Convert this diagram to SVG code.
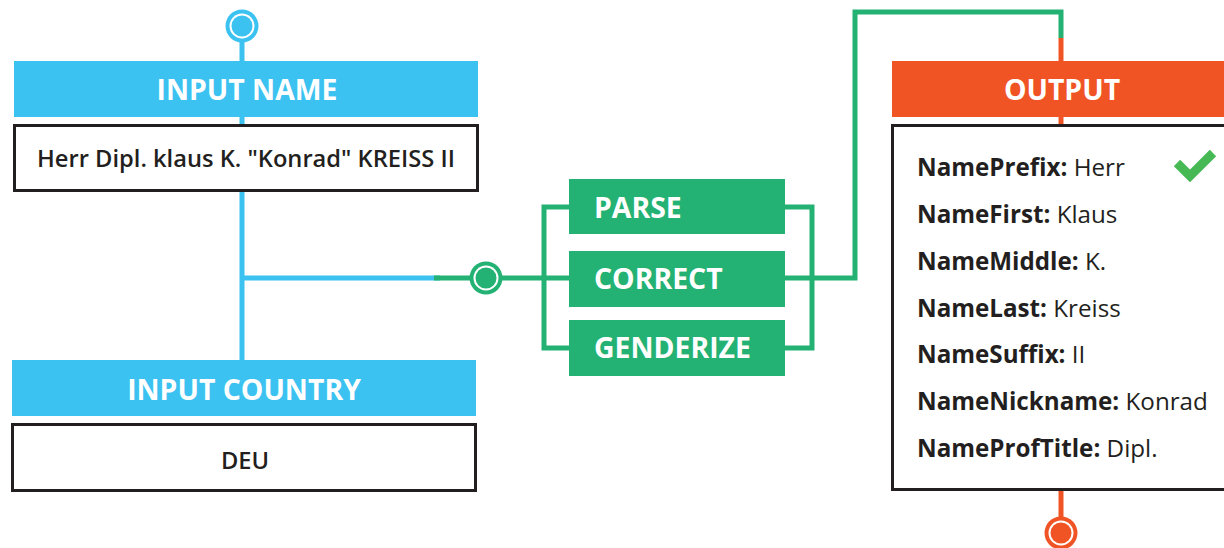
<svg xmlns="http://www.w3.org/2000/svg" width="1224" height="548" viewBox="0 0 1224 548">
<style>
.hdr{font-family:"Open Sans","Liberation Sans",sans-serif;font-weight:700;font-size:28.4px;fill:#fff}
.val{font-family:"Open Sans","Liberation Sans",sans-serif;font-weight:600;font-size:23.7px;fill:#231f20}
.out{font-family:"Open Sans","Liberation Sans",sans-serif;font-size:24.2px;fill:#231f20}
.out tspan.k{font-weight:700}
.box{fill:#fff;stroke:#231f20;stroke-width:3}
.blue{fill:#3bc2f1}
.green{fill:#23b273}
.orange{fill:#f15424}
.ln{fill:none;stroke-width:5}
</style>
<g id="connectors">
  <line class="ln" x1="242" y1="40" x2="242" y2="360" stroke="#3bc2f1" stroke-width="6"/>
  <line class="ln" x1="242" y1="278" x2="440" y2="278" stroke="#3bc2f1" stroke-width="6"/>
  <line class="ln" x1="434" y1="278" x2="569" y2="278" stroke="#23b273"/>
  <polyline class="ln" points="569,207 544,207 544,348 569,348" stroke="#23b273"/>
  <polyline class="ln" points="785,207 812,207 812,348 785,348" stroke="#23b273"/>
  <polyline class="ln" points="785,278 855,278 855,12 1061,12 1061,38" stroke="#23b273"/>
  <line class="ln" x1="1061" y1="38" x2="1061" y2="61" stroke="#f15424"/>
  <line class="ln" x1="1061" y1="117" x2="1061" y2="125" stroke="#f15424"/>
  <line class="ln" x1="1061" y1="490" x2="1061" y2="520" stroke="#f15424"/>
  <g id="port-top">
    <circle cx="242" cy="26" r="16.5" fill="#3bc2f1"/>
    <circle cx="242" cy="26" r="12.5" fill="#fff"/>
    <circle cx="242" cy="26" r="10.5" fill="#3bc2f1"/>
  </g>
  <g id="port-mid">
    <circle cx="486" cy="278" r="16.5" fill="#23b273"/>
    <circle cx="486" cy="278" r="12.5" fill="#fff"/>
    <circle cx="486" cy="278" r="10.5" fill="#23b273"/>
  </g>
  <g id="port-bottom">
    <circle cx="1061" cy="533" r="16.5" fill="#f15424"/>
    <circle cx="1061" cy="533" r="12.5" fill="#fff"/>
    <circle cx="1061" cy="533" r="10.5" fill="#f15424"/>
  </g>
</g>
<g id="input-name">
  <rect class="blue" x="14" y="61" width="464" height="56"/>
  <text class="hdr" x="247" y="100" text-anchor="middle">INPUT NAME</text>
  <rect class="box" x="14.5" y="125.5" width="463" height="65"/>
  <text class="val" x="246" y="167" text-anchor="middle">Herr Dipl. klaus K. "Konrad" KREISS II</text>
</g>
<g id="input-country">
  <rect class="blue" x="12" y="360" width="464" height="56"/>
  <text class="hdr" x="244" y="400" text-anchor="middle">INPUT COUNTRY</text>
  <rect class="box" x="12.5" y="424.5" width="463" height="66"/>
  <text class="val" x="245" y="469" text-anchor="middle">DEU</text>
</g>
<g id="parse">
  <rect class="green" x="569" y="179" width="216" height="55"/>
  <text class="hdr" x="594" y="218">PARSE</text>
</g>
<g id="correct">
  <rect class="green" x="569" y="251" width="216" height="56"/>
  <text class="hdr" x="594" y="289">CORRECT</text>
</g>
<g id="genderize">
  <rect class="green" x="569" y="320" width="216" height="56"/>
  <text class="hdr" x="594" y="358">GENDERIZE</text>
</g>
<g id="output">
  <rect class="orange" x="892" y="61" width="340" height="56"/>
  <text class="hdr" x="1062" y="100" text-anchor="middle">OUTPUT</text>
  <rect class="box" x="892.5" y="125.5" width="340" height="364"/>
  <text class="out" x="917" y="176"><tspan class="k">NamePrefix:</tspan> Herr</text>
  <text class="out" x="917" y="223"><tspan class="k">NameFirst:</tspan> Klaus</text>
  <text class="out" x="917" y="270"><tspan class="k">NameMiddle:</tspan> K.</text>
  <text class="out" x="917" y="317"><tspan class="k">NameLast:</tspan> Kreiss</text>
  <text class="out" x="917" y="363"><tspan class="k">NameSuffix:</tspan> II</text>
  <text class="out" x="917" y="410"><tspan class="k">NameNickname:</tspan> Konrad</text>
  <text class="out" x="917" y="457"><tspan class="k">NameProfTitle:</tspan> Dipl.</text>
  <polyline points="1177,163 1190,176 1213,153" fill="none" stroke="#46b955" stroke-width="9"/>
</g>
</svg>
